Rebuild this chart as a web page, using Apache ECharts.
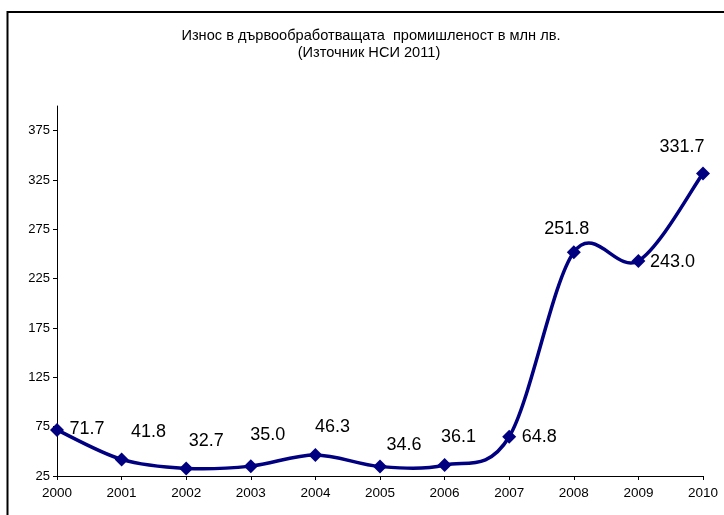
<!DOCTYPE html>
<html>
<head>
<meta charset="utf-8">
<script src="https://cdn.jsdelivr.net/npm/echarts@6/dist/echarts.min.js"></script>
<style>
  html, body { margin: 0; padding: 0; background: #ffffff; }
  #chart { width: 724px; height: 515px; }
</style>
</head>
<body>
<div id="chart"></div>
<script>
// Export of the wood-processing industry, million BGN
const years = ['2000', '2001', '2002', '2003', '2004', '2005', '2006', '2007', '2008', '2009', '2010'];
const exportValues = [71.7, 41.8, 32.7, 35.0, 46.3, 34.6, 36.1, 64.8, 251.8, 243.0, 331.7];
const yTicks = [25, 75, 125, 175, 225, 275, 325, 375];
const titleLines = ['Износ в дървообработващата  промишленост в млн лв.', '(Източник НСИ 2011)'];

// where each value label sits relative to its marker
const labelOffsets = [
  [30, -1], [27, -27], [20, -27], [17, -31], [17, -28], [24, -21],
  [14, -28], [30, 0], [-7, -23], [34, 1], [-21, -26]
];

const font = '"Liberation Sans", Arial, sans-serif';
const navy = '#000080';

// Smoothed curve through all points (Catmull-Rom style Bezier segments)
function renderSmoothLine(params, api) {
  if (params.dataIndex !== 0) return null;
  const pts = exportValues.map((v, i) => api.coord([i, v]));
  let d = 'M' + pts[0][0] + ' ' + pts[0][1];
  for (let i = 0; i < pts.length - 1; i++) {
    const p0 = pts[Math.max(i - 1, 0)];
    const p1 = pts[i];
    const p2 = pts[i + 1];
    const p3 = pts[Math.min(i + 2, pts.length - 1)];
    const c1x = p1[0] + (p2[0] - p0[0]) / 6;
    const c1y = p1[1] + (p2[1] - p0[1]) / 6;
    const c2x = p2[0] - (p3[0] - p1[0]) / 6;
    const c2y = p2[1] - (p3[1] - p1[1]) / 6;
    d += ' C' + c1x + ' ' + c1y + ' ' + c2x + ' ' + c2y + ' ' + p2[0] + ' ' + p2[1];
  }
  return {
    type: 'path',
    shape: { pathData: d },
    style: { stroke: navy, lineWidth: 3.5, fill: 'none', lineJoin: 'round', lineCap: 'round' }
  };
}

const chart = echarts.init(document.getElementById('chart'), null, { renderer: 'canvas' });

chart.setOption({
  animation: false,
  backgroundColor: '#ffffff',
  grid: { left: 57, right: 21, top: 106, bottom: 39, containLabel: false },
  graphic: [
    {
      type: 'polyline',
      shape: { points: [[7.5, 520], [7.5, 12], [730, 12]] },
      style: { stroke: '#000000', lineWidth: 2, fill: null },
      silent: true
    },
    {
      type: 'text', x: 371, y: 36,
      style: { text: titleLines[0], font: '14.6px ' + font, fill: '#000000', align: 'center', verticalAlign: 'middle' }
    },
    {
      type: 'text', x: 369, y: 53,
      style: { text: titleLines[1], font: '14.6px ' + font, fill: '#000000', align: 'center', verticalAlign: 'middle' }
    }
  ],
  xAxis: {
    type: 'category',
    data: years,
    boundaryGap: false,
    axisLine: { lineStyle: { color: '#000000', width: 1 } },
    axisTick: { show: true, length: 4, inside: false, lineStyle: { color: '#000000' } },
    axisLabel: { color: '#000000', fontFamily: font, fontSize: 13.5, margin: 10, interval: 0 },
    splitLine: { show: false }
  },
  yAxis: {
    type: 'value',
    min: 25,
    max: 400,
    interval: 50,
    axisLine: { show: true, lineStyle: { color: '#000000', width: 1 } },
    axisTick: { show: true, length: 4, lineStyle: { color: '#000000' }, customValues: yTicks },
    axisLabel: { color: '#000000', fontFamily: font, fontSize: 13, margin: 7, customValues: yTicks },
    splitLine: { show: false }
  },
  series: [
    {
      type: 'custom',
      renderItem: renderSmoothLine,
      data: exportValues.map((v, i) => [i, v]),
      encode: { x: 0, y: 1 },
      silent: true,
      z: 2
    },
    {
      type: 'line',
      data: exportValues.map((v, i) => ({
        value: v,
        label: { offset: labelOffsets[i] }
      })),
      symbol: 'diamond',
      symbolSize: 14,
      lineStyle: { opacity: 0 },
      itemStyle: { color: navy },
      label: {
        show: true,
        position: 'inside',
        align: 'center',
        verticalAlign: 'middle',
        color: '#000000',
        fontFamily: font,
        fontSize: 18,
        formatter: p => p.value.toFixed(1)
      },
      z: 3
    }
  ]
});
</script>
</body>
</html>
